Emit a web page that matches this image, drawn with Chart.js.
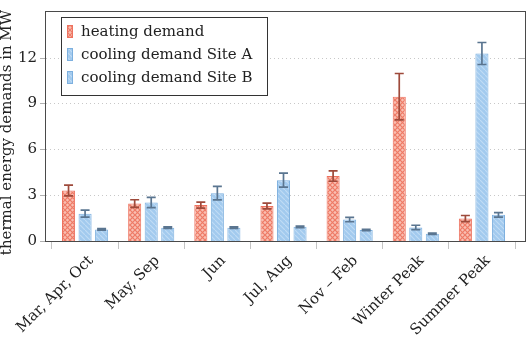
<!DOCTYPE html>
<html>
<head>
<meta charset="utf-8">
<script src="https://cdn.jsdelivr.net/npm/chart.js@4/dist/chart.umd.min.js"></script>
<style>
  html, body { margin: 0; padding: 0; background: #fff; }
  #chart { display: block; }
</style>
</head>
<body>
<canvas id="chart" width="526" height="339"></canvas>
<script>
// data
const periods = ['Mar, Apr, Oct', 'May, Sep', 'Jun', 'Jul, Aug', 'Nov \u2013 Feb', 'Winter Peak', 'Summer Peak'];
const heating = [3.30, 2.45, 2.35, 2.29, 4.25, 9.44, 1.47];
const heatingErr = [0.35, 0.25, 0.20, 0.19, 0.34, 1.52, 0.20];
const coolingA = [1.79, 2.52, 3.13, 3.98, 1.40, 0.89, 12.27];
const coolingAErr = [0.23, 0.33, 0.44, 0.46, 0.14, 0.14, 0.72];
const coolingB = [0.76, 0.87, 0.87, 0.93, 0.72, 0.47, 1.71];
const coolingBErr = [0.05, 0.05, 0.05, 0.05, 0.04, 0.04, 0.15];
const yTicks = [0, 3, 6, 9, 12];

const serif = "'DejaVu Serif', 'Liberation Serif', serif";
const fontSize = 15;

// fill patterns like the pgfplots crosshatch / north west lines
function makeHatch(bg, fg, cross) {
  const c = document.createElement('canvas');
  c.width = 5; c.height = 5;
  const g = c.getContext('2d');
  g.fillStyle = bg;
  g.fillRect(0, 0, 5, 5);
  g.strokeStyle = fg;
  g.lineWidth = 1.2;
  g.beginPath();
  g.moveTo(-1, -1); g.lineTo(6, 6);
  if (cross) { g.moveTo(-1, 6); g.lineTo(6, -1); }
  g.stroke();
  return g.createPattern(c, 'repeat');
}
const ctx = document.getElementById('chart').getContext('2d');
const redFill = makeHatch('#f9bfb2', '#ee7a66', true);
const blueFill = makeHatch('#a2caee', '#c0dbf4', false);

const errs = [heatingErr, coolingAErr, coolingBErr];
const errColors = ['#9e4a3b', '#5a7590'];

const decor = {
  id: 'decor',
  beforeDatasetsDraw(chart) {
    const c = chart.ctx, y = chart.scales.y;
    c.save();
    // dotted horizontal grid
    c.strokeStyle = '#c8c8c8';
    c.lineWidth = 1;
    c.setLineDash([1, 3]);
    yTicks.forEach(v => {
      if (v === 0) return;
      const py = Math.round(y.getPixelForValue(v)) + 0.5;
      c.beginPath(); c.moveTo(46, py); c.lineTo(524, py); c.stroke();
    });
    c.setLineDash([]);
    c.strokeStyle = '#b0b0b0';
    yTicks.forEach(v => {
      const py = Math.round(y.getPixelForValue(v)) + 0.5;
      c.beginPath(); c.moveTo(40, py); c.lineTo(45, py); c.stroke();
      c.beginPath(); c.moveTo(519, py); c.lineTo(525, py); c.stroke();
    });
    c.restore();
  },
  afterDatasetsDraw(chart) {
    const c = chart.ctx, y = chart.scales.y;
    c.save();
    // error bars
    chart.data.datasets.forEach((ds, i) => {
      const meta = chart.getDatasetMeta(i);
      c.strokeStyle = i === 0 ? errColors[0] : errColors[1];
      c.lineWidth = 1.7;
      meta.data.forEach((bar, j) => {
        const v = ds.data[j], e = errs[i][j];
        const top = y.getPixelForValue(v + e), bot = y.getPixelForValue(v - e);
        c.beginPath();
        c.moveTo(bar.x, top); c.lineTo(bar.x, bot);
        c.moveTo(bar.x - 4.5, top); c.lineTo(bar.x + 4.5, top);
        c.moveTo(bar.x - 4.5, bot); c.lineTo(bar.x + 4.5, bot);
        c.stroke();
      });
    });
    // axis frame
    c.strokeStyle = '#4a4a4a';
    c.lineWidth = 1;
    c.strokeRect(45.5, 11.5, 480, 230);
    // legend box
    c.fillStyle = '#fff';
    c.fillRect(61, 17, 206, 78);
    c.strokeStyle = '#333';
    c.strokeRect(61.5, 17.5, 206, 78);
    c.font = fontSize + 'px ' + serif;
    c.textBaseline = 'middle';
    chart.data.datasets.forEach((ds, i) => {
      const cy = 32 + i * 23;
      c.fillStyle = ds.backgroundColor;
      c.fillRect(67, cy - 7, 6, 13);
      c.strokeStyle = ds.borderColor;
      c.strokeRect(67.5, cy - 6.5, 5, 12);
      c.fillStyle = '#222';
      c.fillText(ds.label, 81, cy);
    });
    c.restore();
  }
};

new Chart(ctx, {
  type: 'bar',
  data: {
    labels: periods,
    datasets: [
      { label: 'heating demand', data: heating, backgroundColor: redFill, borderColor: '#ee725f', borderWidth: 1 },
      { label: 'cooling demand Site A', data: coolingA, backgroundColor: blueFill, borderColor: '#7db0df', borderWidth: 1 },
      { label: 'cooling demand Site B', data: coolingB, backgroundColor: blueFill, borderColor: '#7db0df', borderWidth: 1 }
    ]
  },
  options: {
    responsive: false,
    animation: false,
    categoryPercentage: 0.75,
    barPercentage: 0.79,
    layout: { padding: { top: 11, right: 11, left: 0, bottom: 0 } },
    plugins: { legend: { display: false }, tooltip: { enabled: false } },
    scales: {
      x: {
        offset: true,
        border: { display: false },
        grid: { drawOnChartArea: false, drawTicks: true, tickLength: 8, color: '#c4c4c4', offset: true },
        ticks: {
          minRotation: 45, maxRotation: 45, padding: 3, labelOffset: 6,
          color: '#222', font: { family: serif, size: fontSize }
        },
        afterFit(s) { s.height = 98; }
      },
      y: {
        min: 0, max: 14.2,
        border: { display: false },
        grid: { display: false, drawTicks: false },
        ticks: {
          stepSize: 3, includeBounds: false, padding: 15,
          color: '#222', font: { family: serif, size: fontSize }
        },
        title: {
          display: true, text: 'thermal energy demands in MW',
          color: '#222', font: { family: serif, size: fontSize, lineHeight: 1 },
          padding: { top: 0, bottom: 0 }
        },
        afterFit(s) { s.width = 52; }
      }
    }
  },
  plugins: [decor]
});
</script>
</body>
</html>
